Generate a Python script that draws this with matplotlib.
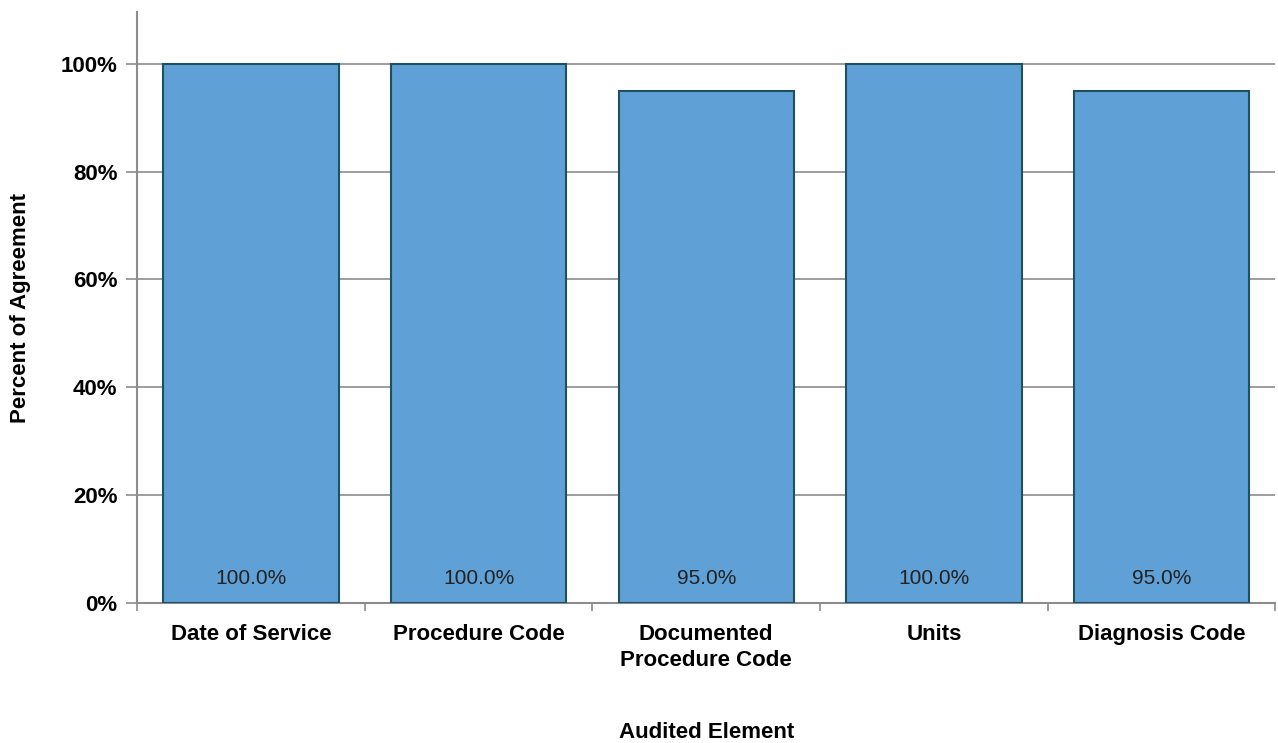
import numpy as np
import matplotlib
matplotlib.use("Agg")
import matplotlib.pyplot as plt
from matplotlib.ticker import FuncFormatter, FixedLocator

categories = ["Date of Service", "Procedure Code", "Documented\nProcedure Code", "Units", "Diagnosis Code"]
agreement = [100.0, 100.0, 95.0, 100.0, 95.0]
yticks = [0, 20, 40, 60, 80, 100]

plt.rcParams['font.family'] = ['Liberation Sans', 'DejaVu Sans']

fig = plt.figure(figsize=(12.78, 7.43), dpi=100)
ax = fig.add_axes([0.1072, 0.1884, 0.8908, 0.7954])

x = np.arange(len(categories))
bars = ax.bar(x, agreement, width=0.77, color="#5fa0d6", edgecolor="#1f5060", linewidth=1.5, zorder=3)

for xi, v in zip(x, agreement):
    ax.text(xi, 4.5, f"{v:.1f}%", ha="center", va="center", fontsize=15, color="#222222", zorder=4)

ax.set_xlim(-0.5, len(categories) - 0.5)
ax.set_ylim(0, 109.6)
ax.set_yticks(yticks)
ax.yaxis.set_major_formatter(FuncFormatter(lambda v, p: f"{v:.0f}%"))
ax.yaxis.grid(True, color="#8c8c8c", linewidth=1.2, zorder=0)

ax.set_xticks(x)
ax.set_xticklabels(categories, fontweight="bold", fontsize=16, linespacing=1.3)
ax.tick_params(axis="x", which="major", length=0, pad=15)
ax.xaxis.set_minor_locator(FixedLocator(np.arange(-0.5, len(categories), 1.0)))
ax.tick_params(axis="x", which="minor", length=6, color="#8c8c8c", width=1.2)
ax.tick_params(axis="y", length=8, color="#8c8c8c", width=1.2, labelsize=16, pad=6)
for lab in ax.get_yticklabels():
    lab.set_fontweight("bold")

for s in ["top", "right"]:
    ax.spines[s].set_visible(False)
for s in ["left", "bottom"]:
    ax.spines[s].set_color("#8c8c8c")
    ax.spines[s].set_linewidth(1.5)

ax.set_xlabel("Audited Element", fontweight="bold", fontsize=16)
ax.xaxis.set_label_coords(0.5, (603 - 732) / 591, transform=ax.transAxes)
ax.xaxis.label.set_va("center")
ax.set_ylabel("Percent of Agreement", fontweight="bold", fontsize=16)
ax.yaxis.set_label_coords((20 - 137) / 1139, 0.5, transform=ax.transAxes)
ax.yaxis.label.set_va("center")

fig.savefig("out.png", dpi=100)
